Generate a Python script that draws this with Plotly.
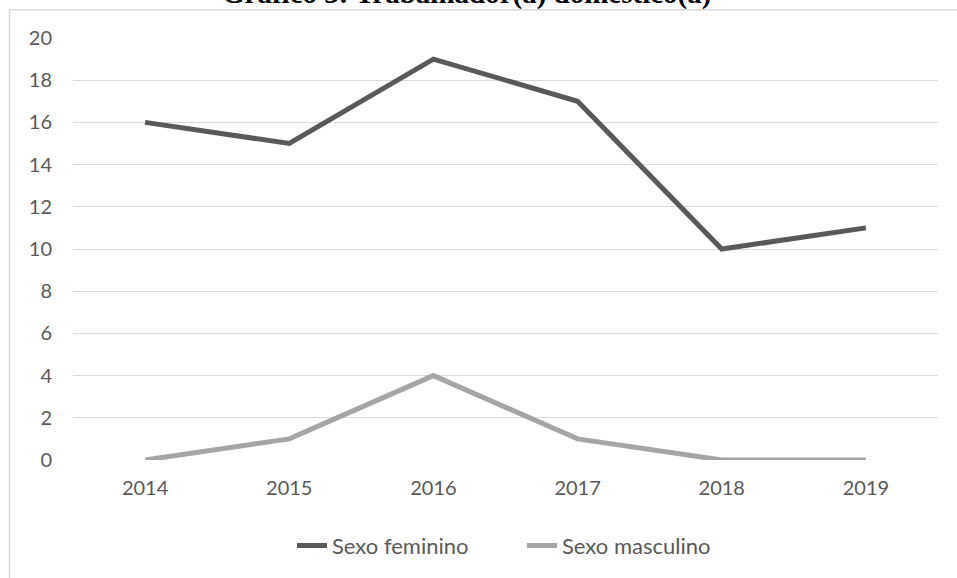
import plotly.graph_objects as go

years = ["2014", "2015", "2016", "2017", "2018", "2019"]
feminino = [16, 15, 19, 17, 10, 11]
masculino = [0, 1, 4, 1, 0, 0]
y_ticks = [0, 2, 4, 6, 8, 10, 12, 14, 16, 18, 20]

title_text = "Gráfico 3: Trabalhador(a) doméstico(a)"
series_names = ["Sexo feminino", "Sexo masculino"]
colors = ["#595959", "#a5a5a5"]

FONT = "Lato"
W, H = 957, 578
L, R, T, B = 73, 19, 38, 116

fig = go.Figure()
for name, vals, c in zip(series_names, [feminino, masculino], colors):
    fig.add_trace(go.Scatter(
        x=years, y=vals, mode="lines", name=name,
        line=dict(color=c, width=5),
    ))

pw = W - L - R
ph = H - T - B

fig.update_layout(
    width=W, height=H,
    margin=dict(l=L, r=R, t=T, b=B, pad=0),
    paper_bgcolor="white", plot_bgcolor="white",
    font=dict(family=FONT, size=20, color="#595959"),
    showlegend=True,
    legend=dict(
        orientation="h",
        x=(292 - L) / pw, xanchor="left",
        y=-(548 - (H - B)) / ph, yanchor="middle",
        font=dict(family=FONT, size=22, color="#595959"),
        entrywidth=185, entrywidthmode="pixels",
        bgcolor="rgba(0,0,0,0)",
        tracegroupgap=0,
    ),
    xaxis=dict(
        type="category", range=[-0.5, 5.5],
        showgrid=False, zeroline=False, showline=False,
        ticks="", ticklabelstandoff=14,
        tickfont=dict(family=FONT, size=20, color="#595959"),
    ),
    yaxis=dict(
        range=[0, 20], tickvals=y_ticks,
        showgrid=True, gridcolor="#d9d9d9", gridwidth=1,
        zeroline=False, showline=False,
        ticks="", ticklabelstandoff=20,
        tickfont=dict(family=FONT, size=20, color="#595959"),
    ),
    annotations=[dict(
        text="<b>" + title_text + "</b>",
        xref="paper", yref="paper",
        x=(466 - L) / pw, xanchor="center",
        y=1 + (T - 6) / ph, yanchor="bottom",
        yshift=-6,
        showarrow=False,
        font=dict(family="Liberation Serif", size=29, color="black"),
    )],
    shapes=[
        dict(type="line", xref="paper", yref="paper",
             x0=-(L - 9.5) / pw, x1=-(L - 9.5) / pw,
             y0=1 + (T - 9.5) / ph, y1=-(B + 5) / ph,
             line=dict(color="#d9d9d9", width=1.5)),
        dict(type="line", xref="paper", yref="paper",
             x0=-(L - 9.5) / pw, x1=1 + (R + 5) / pw,
             y0=1 + (T - 9.5) / ph, y1=1 + (T - 9.5) / ph,
             line=dict(color="#d9d9d9", width=1.5)),
    ],
)

fig.write_html(
    "out.html",
    config={"displayModeBar": False},
    post_script="document.body.style.margin='0px';document.body.style.overflow='hidden';",
)
